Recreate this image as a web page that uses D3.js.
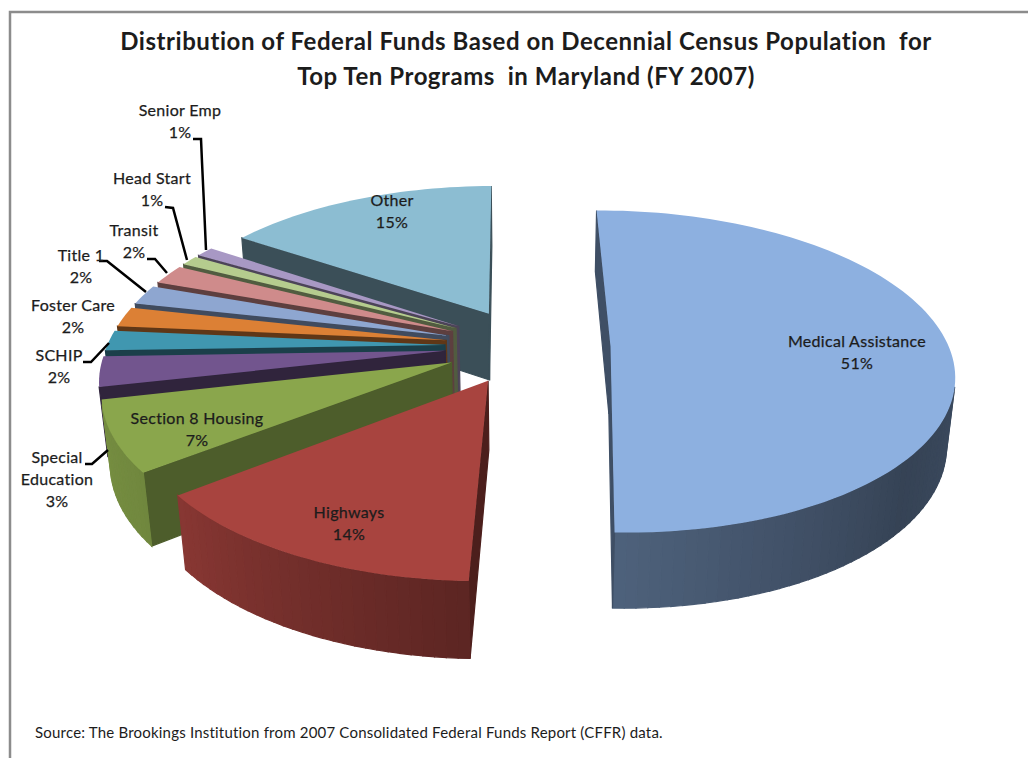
<!DOCTYPE html>
<html>
<head>
<meta charset="utf-8">
<script src="https://cdn.jsdelivr.net/npm/d3@7"></script>
<style>
  html, body { margin: 0; padding: 0; background: #fff; }
  text { font-family: Lato, "Open Sans", sans-serif; fill: #1c1c1c; }
</style>
</head>
<body>
<script>
// Data
var programs = ["Medical Assistance", "Highways", "Section 8 Housing", "Special Education", "SCHIP", "Foster Care", "Title 1", "Transit", "Head Start", "Senior Emp", "Other"];
var shares = [50.6, 14, 7, 3, 2, 2, 2, 2, 1, 1, 15.4];
var explodes = [0.25, 0.24, 0.24, 0.24, 0.24, 0.24, 0.24, 0.24, 0.24, 0.24, 0.24];
var topColors = ["#8db0e0", "#a8443f", "#8aa64c", "#72558e", "#4097b0", "#dc8035", "#8ea6d0", "#cf8b8b", "#b5cc8e", "#a898c4", "#8cbdd2"];
var cutShades = [0.45, 0.45, 0.56, 0.42, 0.42, 0.43, 0.45, 0.45, 0.45, 0.45, 0.42];

// Label lines and where they sit
var labelLines = [["Medical Assistance", "51%"], ["Highways", "14%"], ["Section 8 Housing", "7%"], ["Special", "Education", "3%"], ["SCHIP", "2%"], ["Foster Care", "2%"], ["Title 1", "2%"], ["Transit", "2%"], ["Head Start", "1%"], ["Senior Emp", "1%"], ["Other", "15%"]];
var labelSpots = [[857, 347], [349, 518], [197, 424], [57, 463], [59, 361], [73, 311], [81, 261], [134, 236], [152, 184], [180, 116], [392, 206]];
var leaders = [
  [[193, 139], [201, 139], [202, 162], [204, 205], [206, 250]],
  [[165, 207], [173, 208], [187, 260]],
  [[147, 259], [155, 259], [167, 273]],
  [[99, 261], [107, 261], [146, 292]],
  [[83, 362], [91, 362], [109, 343]],
  [[85, 464], [92, 464], [108, 450]]
];

var width = 1028;
var height = 758;

// Perspective of the pie plane
var rotation = -0.5 * Math.PI / 180;
var tilt = 0.156;
var depth = 69;
var converge = 0.02 / 69;

var xScale = d3.scaleLinear().domain([-1, 1]).range([526 - 338, 526 + 338]);
var yScale = d3.scaleLinear().domain([-1, 1]).range([346 - 157, 346 + 157]);

// How bright the outer wall is, by angle round the pie (degrees clockwise from the top)
var wallShade = d3.scaleLinear().domain([90, 130, 183, 233, 270, 360]).range([0.44, 0.38, 0.56, 0.82, 0.88, 0.6]);

function project(u, v, z) {
  var w = 1 - tilt * v + converge * z;
  return [xScale(u / w), yScale(v / w) + (z / w)];
}

function shade(color, k) {
  var c = d3.rgb(color);
  return d3.rgb(c.r * k, c.g * k, c.b * k).formatHex();
}

var pie = d3.pie().sort(null).startAngle(rotation).endAngle(rotation + 2 * Math.PI);
var arcs = pie(shares);

var svg = d3.select("body").append("svg")
  .attr("width", width)
  .attr("height", height)
  .style("display", "block");

// Frame
svg.append("path")
  .attr("d", "M10,758V12H1028")
  .attr("fill", "none")
  .attr("stroke", "#8c8c8c")
  .attr("stroke-width", 2.5);

// Title
svg.append("g").selectAll("text")
  .data(["Distribution of Federal Funds Based on Decennial Census Population  for", "Top Ten Programs  in Maryland (FY 2007)"])
  .join("text")
  .attr("x", 526)
  .attr("y", function(d, i) { return 50 + i * 35; })
  .attr("text-anchor", "middle")
  .style("white-space", "pre")
  .attr("font-size", 24)
  .attr("letter-spacing", 0.55)
  .attr("font-weight", 700)
  .text(function(d) { return d; });

// Slices, back to front
function buildSlice(d, i) {
  var mid = (d.startAngle + d.endAngle) / 2;
  var ou = explodes[i] * Math.sin(mid);
  var ov = -explodes[i] * Math.cos(mid);
  var rim = d3.range(0, 1.0001, 1 / Math.max(2, Math.ceil((d.endAngle - d.startAngle) / 0.03))).map(function(t) {
    var a = d.startAngle + t * (d.endAngle - d.startAngle);
    return { a: a, u: ou + Math.sin(a), v: ov - Math.cos(a) };
  });
  var apex = { u: ou, v: ov };
  var outline = [apex].concat(rim, [apex]);
  var faces = [];
  for (var k = 0; k < outline.length - 1; k++) {
    var p = outline[k];
    var q = outline[k + 1];
    var poly = [project(p.u, p.v, 0), project(q.u, q.v, 0), project(q.u, q.v, depth), project(p.u, p.v, depth)];
    if (d3.polygonArea(poly) <= 0) continue;
    var isCut = (p === apex || q === apex);
    var deg = ((p === apex ? q.a : p.a) * 180 / Math.PI + 360) % 360;
    faces.push({ poly: poly, fill: shade(topColors[i], isCut ? cutShades[i] : wallShade(deg)) });
  }
  return { faces: faces, top: rim.map(function(r) { return project(r.u, r.v, 0); }), apex: project(ou, ov, 0), fill: topColors[i] };
}

var line = d3.line();
var paintOrder = [10, 9, 8, 7, 6, 5, 4, 3, 2, 1, 0];
var slices = svg.append("g").selectAll("g")
  .data(paintOrder.map(function(i) { return buildSlice(arcs[i], i); }))
  .join("g");

slices.selectAll("path.wall")
  .data(function(s) { return s.faces; })
  .join("path")
  .attr("class", "wall")
  .attr("d", function(f) { return line(f.poly) + "Z"; })
  .attr("fill", function(f) { return f.fill; })
  .attr("stroke", function(f) { return f.fill; })
  .attr("stroke-width", 1.2);

slices.append("path")
  .attr("class", "top")
  .attr("d", function(s) { return line([s.apex].concat(s.top)) + "Z"; })
  .attr("fill", function(s) { return s.fill; });

// Leader lines
svg.append("g").selectAll("path")
  .data(leaders)
  .join("path")
  .attr("d", line)
  .attr("fill", "none")
  .attr("stroke", "#000")
  .attr("stroke-width", 2.5);

// Data labels
var labels = svg.append("g").selectAll("text")
  .data(labelLines)
  .join("text")
  .attr("text-anchor", "middle")
  .attr("font-size", 16)
  .attr("letter-spacing", 0.3)
  .attr("stroke", "#1c1c1c")
  .attr("stroke-width", 0.25);

labels.selectAll("tspan")
  .data(function(lines, i) { return lines.map(function(t) { return { t: t, x: labelSpots[i][0], y: labelSpots[i][1] }; }); })
  .join("tspan")
  .attr("x", function(d) { return d.x; })
  .attr("y", function(d, k) { return d.y + k * 22; })
  .text(function(d) { return d.t; });

// Source note
svg.append("text")
  .attr("x", 35)
  .attr("y", 738)
  .attr("font-size", 15)
  .attr("letter-spacing", 0.2)
  .text("Source: The Brookings Institution from 2007 Consolidated Federal Funds Report (CFFR) data.");
</script>
</body>
</html>
